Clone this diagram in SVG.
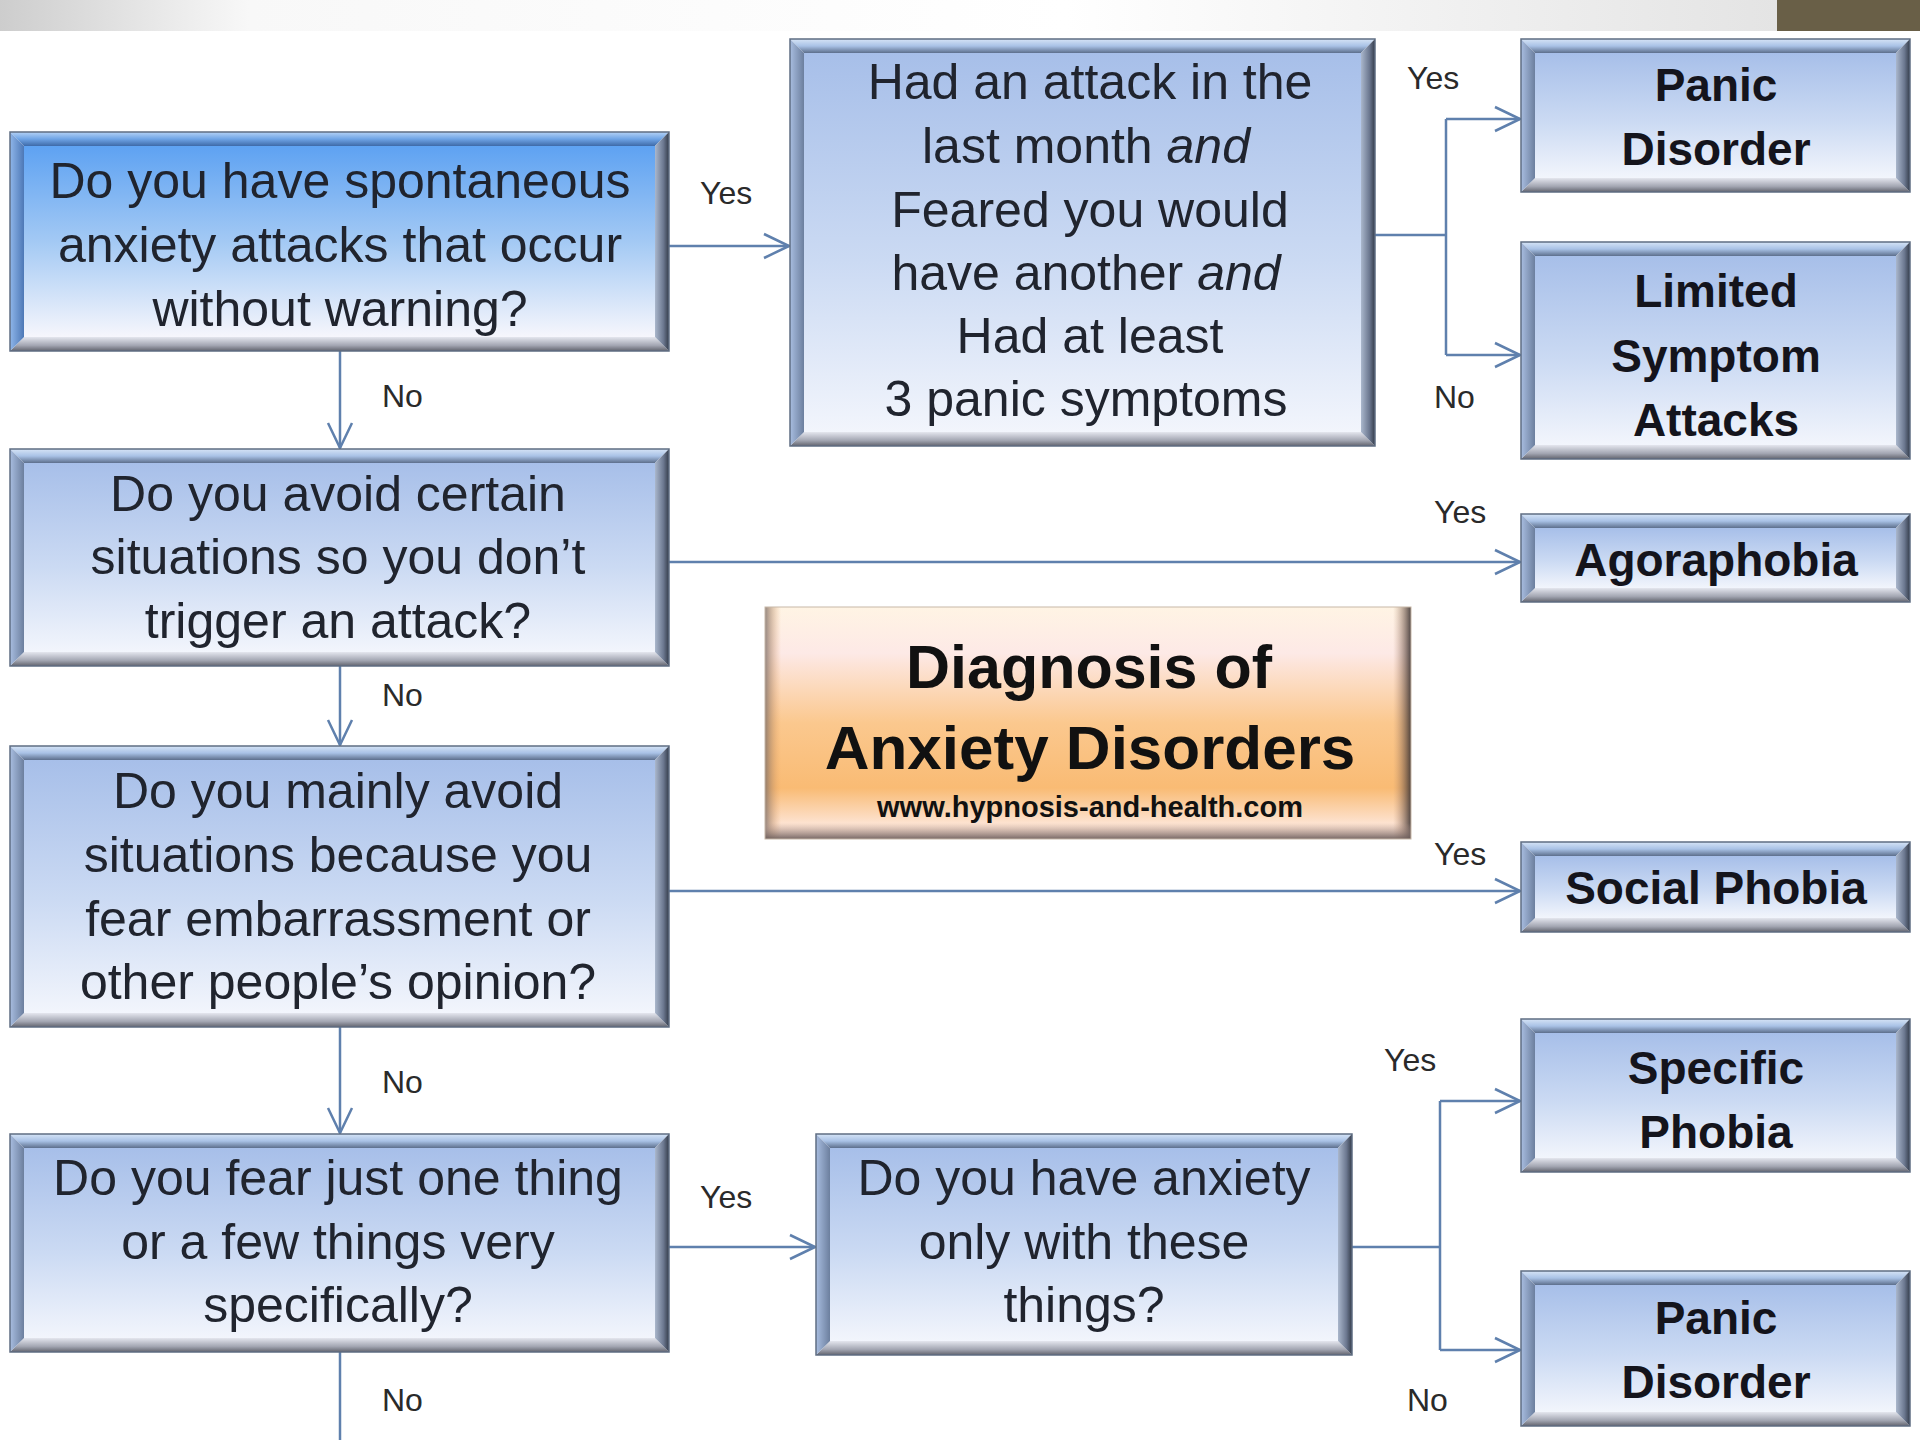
<svg xmlns="http://www.w3.org/2000/svg" width="1920" height="1440" viewBox="0 0 1920 1440">
<style>
.q{font-family:"Liberation Sans",Arial,sans-serif;font-size:50px;fill:#20242e;text-anchor:middle}
.t{font-family:"Liberation Sans",Arial,sans-serif;font-size:46px;font-weight:bold;fill:#14141c;text-anchor:middle}
.lb{font-family:"Liberation Sans",Arial,sans-serif;font-size:32px;fill:#2a2a2a}
.ti{font-family:"Liberation Sans",Arial,sans-serif;font-weight:bold;fill:#111;text-anchor:middle}
.bt{fill:url(#gTop)}
.bb{fill:url(#gBot)}
.bl{fill:url(#gLeft)}
.br{fill:url(#gRight)}
.bt1{fill:url(#gTop1)}
.bl1{fill:url(#gLeft1)}
.face{fill:url(#gFace)}
.face1{fill:url(#gFace1)}
.edge{fill:none;stroke:#5f6d82;stroke-width:1.5}
.conn{fill:none;stroke:#5f80ad;stroke-width:2.5}
</style>
<defs>
<linearGradient id="band" x1="0" y1="0" x2="1" y2="0">
<stop offset="0" stop-color="#cdcdcd"/><stop offset="0.14" stop-color="#f8f8f8"/><stop offset="0.6" stop-color="#ffffff"/><stop offset="1" stop-color="#e4e4e4"/>
</linearGradient>
<linearGradient id="gTop" x1="0" y1="0" x2="0" y2="1">
<stop offset="0" stop-color="#d6e4f6"/><stop offset="0.5" stop-color="#a9c2e6"/><stop offset="1" stop-color="#5d6f8c"/>
</linearGradient>
<linearGradient id="gTop1" x1="0" y1="0" x2="0" y2="1">
<stop offset="0" stop-color="#b4d2f6"/><stop offset="0.5" stop-color="#6fa4e6"/><stop offset="1" stop-color="#3e6aa8"/>
</linearGradient>
<linearGradient id="gBot" x1="0" y1="0" x2="0" y2="1">
<stop offset="0" stop-color="#e4e6ee"/><stop offset="0.6" stop-color="#a3a6b2"/><stop offset="1" stop-color="#62646e"/>
</linearGradient>
<linearGradient id="gLeft" x1="0" y1="0" x2="1" y2="0">
<stop offset="0" stop-color="#a8bde0"/><stop offset="1" stop-color="#6c7f9e"/>
</linearGradient>
<linearGradient id="gLeft1" x1="0" y1="0" x2="1" y2="0">
<stop offset="0" stop-color="#8fb6ea"/><stop offset="1" stop-color="#4d78b6"/>
</linearGradient>
<linearGradient id="gRight" x1="0" y1="0" x2="1" y2="0">
<stop offset="0" stop-color="#aab7cc"/><stop offset="0.6" stop-color="#6c7890"/><stop offset="1" stop-color="#343c4a"/>
</linearGradient>
<linearGradient id="gFace" x1="0" y1="0" x2="0" y2="1">
<stop offset="0" stop-color="#a7bfe9"/><stop offset="0.55" stop-color="#cbdaf3"/><stop offset="1" stop-color="#f2f5fc"/>
</linearGradient>
<linearGradient id="gFace1" x1="0" y1="0" x2="0" y2="1">
<stop offset="0" stop-color="#5ea2f2"/><stop offset="0.5" stop-color="#a3c9f4"/><stop offset="1" stop-color="#f6f6fc"/>
</linearGradient>
<linearGradient id="gTitle" x1="0" y1="0" x2="0" y2="1">
<stop offset="0" stop-color="#fff4e4"/><stop offset="0.2" stop-color="#fde9e6"/><stop offset="0.5" stop-color="#fbc88e"/><stop offset="0.78" stop-color="#f9bb74"/><stop offset="0.93" stop-color="#fde2cf"/><stop offset="1" stop-color="#e9d2c8"/>
</linearGradient>
<linearGradient id="gTL" x1="0" y1="0" x2="1" y2="0">
<stop offset="0" stop-color="#7a6e6a" stop-opacity="0.8"/><stop offset="1" stop-color="#e8a060" stop-opacity="0"/>
</linearGradient>
<linearGradient id="gTR" x1="0" y1="0" x2="1" y2="0">
<stop offset="0" stop-color="#c09070" stop-opacity="0"/><stop offset="1" stop-color="#3a3232" stop-opacity="0.9"/>
</linearGradient>
<linearGradient id="gTB" x1="0" y1="0" x2="0" y2="1">
<stop offset="0" stop-color="#c0a49a" stop-opacity="0"/><stop offset="1" stop-color="#6a5c5a" stop-opacity="0.9"/>
</linearGradient>
<marker id="ah" markerUnits="userSpaceOnUse" markerWidth="30" markerHeight="30" viewBox="0 0 30 30" refX="28" refY="15" orient="auto">
<path d="M3,3 L28,15 L3,27" fill="none" stroke="#5f80ad" stroke-width="2.5"/>
</marker>
</defs>

<rect x="0" y="0" width="1920" height="1440" fill="#ffffff"/>
<rect x="0" y="0" width="1777" height="31" fill="url(#band)"/>
<rect x="1777" y="0" width="143" height="31" fill="#695f47"/>

<g id="connectors">
<path class="conn" d="M669,246 H789" marker-end="url(#ah)"/>
<path class="conn" d="M340,351 V448" marker-end="url(#ah)"/>
<path class="conn" d="M1375,235 H1446 M1446,119 V355"/>
<path class="conn" d="M1446,119 H1520" marker-end="url(#ah)"/>
<path class="conn" d="M1446,355 H1520" marker-end="url(#ah)"/>
<path class="conn" d="M669,562 H1520" marker-end="url(#ah)"/>
<path class="conn" d="M340,666 V745" marker-end="url(#ah)"/>
<path class="conn" d="M669,891 H1520" marker-end="url(#ah)"/>
<path class="conn" d="M340,1027 V1133" marker-end="url(#ah)"/>
<path class="conn" d="M669,1247 H815" marker-end="url(#ah)"/>
<path class="conn" d="M1352,1247 H1440 M1440,1101 V1350"/>
<path class="conn" d="M1440,1101 H1520" marker-end="url(#ah)"/>
<path class="conn" d="M1440,1350 H1520" marker-end="url(#ah)"/>
<path class="conn" d="M340,1352 V1440"/>
<text class="lb" x="700" y="204">Yes</text>
<text class="lb" x="382" y="407">No</text>
<text class="lb" x="1407" y="89">Yes</text>
<text class="lb" x="1434" y="408">No</text>
<text class="lb" x="1434" y="523">Yes</text>
<text class="lb" x="382" y="706">No</text>
<text class="lb" x="1434" y="865">Yes</text>
<text class="lb" x="382" y="1093">No</text>
<text class="lb" x="700" y="1208">Yes</text>
<text class="lb" x="1384" y="1071">Yes</text>
<text class="lb" x="1407" y="1411">No</text>
<text class="lb" x="382" y="1411">No</text>
</g>

<g id="q1">
<rect class="face1" x="24" y="146" width="631" height="191"/>
<polygon class="bt1" points="10,132 669,132 655,146 24,146"/>
<polygon class="bb" points="10,351 669,351 655,337 24,337"/>
<polygon class="bl1" points="10,132 24,146 24,337 10,351"/>
<polygon class="br" points="669,132 655,146 655,337 669,351"/>
<rect class="edge" x="10" y="132" width="659" height="219"/>
<text class="q" x="340" y="198">Do you have spontaneous</text>
<text class="q" x="340" y="262">anxiety attacks that occur</text>
<text class="q" x="340" y="326">without warning?</text>
</g>

<g id="q2">
<rect class="face" x="804" y="53" width="557" height="379"/>
<polygon class="bt" points="790,39 1375,39 1361,53 804,53"/>
<polygon class="bb" points="790,446 1375,446 1361,432 804,432"/>
<polygon class="bl" points="790,39 804,53 804,432 790,446"/>
<polygon class="br" points="1375,39 1361,53 1361,432 1375,446"/>
<rect class="edge" x="790" y="39" width="585" height="407"/>
<text class="q" x="1090" y="99">Had an attack in the</text>
<text class="q" x="1086" y="163">last month <tspan font-style="italic">and</tspan></text>
<text class="q" x="1090" y="227">Feared you would</text>
<text class="q" x="1086" y="290">have another <tspan font-style="italic">and</tspan></text>
<text class="q" x="1090" y="353">Had at least</text>
<text class="q" x="1086" y="416">3 panic symptoms</text>
</g>

<g id="panic1">
<rect class="face" x="1535" y="53" width="361" height="125"/>
<polygon class="bt" points="1521,39 1910,39 1896,53 1535,53"/>
<polygon class="bb" points="1521,192 1910,192 1896,178 1535,178"/>
<polygon class="bl" points="1521,39 1535,53 1535,178 1521,192"/>
<polygon class="br" points="1910,39 1896,53 1896,178 1910,192"/>
<rect class="edge" x="1521" y="39" width="389" height="153"/>
<text class="t" x="1716" y="101">Panic</text>
<text class="t" x="1716" y="165">Disorder</text>
</g>

<g id="limited">
<rect class="face" x="1535" y="256" width="361" height="189"/>
<polygon class="bt" points="1521,242 1910,242 1896,256 1535,256"/>
<polygon class="bb" points="1521,459 1910,459 1896,445 1535,445"/>
<polygon class="bl" points="1521,242 1535,256 1535,445 1521,459"/>
<polygon class="br" points="1910,242 1896,256 1896,445 1910,459"/>
<rect class="edge" x="1521" y="242" width="389" height="217"/>
<text class="t" x="1716" y="307">Limited</text>
<text class="t" x="1716" y="372">Symptom</text>
<text class="t" x="1716" y="436">Attacks</text>
</g>

<g id="q3">
<rect class="face" x="24" y="463" width="631" height="189"/>
<polygon class="bt" points="10,449 669,449 655,463 24,463"/>
<polygon class="bb" points="10,666 669,666 655,652 24,652"/>
<polygon class="bl" points="10,449 24,463 24,652 10,666"/>
<polygon class="br" points="669,449 655,463 655,652 669,666"/>
<rect class="edge" x="10" y="449" width="659" height="217"/>
<text class="q" x="338" y="511">Do you avoid certain</text>
<text class="q" x="338" y="574">situations so you don’t</text>
<text class="q" x="338" y="638">trigger an attack?</text>
</g>

<g id="agoraphobia">
<rect class="face" x="1535" y="528" width="361" height="60"/>
<polygon class="bt" points="1521,514 1910,514 1896,528 1535,528"/>
<polygon class="bb" points="1521,602 1910,602 1896,588 1535,588"/>
<polygon class="bl" points="1521,514 1535,528 1535,588 1521,602"/>
<polygon class="br" points="1910,514 1896,528 1896,588 1910,602"/>
<rect class="edge" x="1521" y="514" width="389" height="88"/>
<text class="t" x="1716" y="576">Agoraphobia</text>
</g>

<g id="title">
<rect x="765" y="607" width="646" height="232" fill="url(#gTitle)"/>
<rect x="765" y="607" width="16" height="232" fill="url(#gTL)"/>
<rect x="1393" y="607" width="18" height="232" fill="url(#gTR)"/>
<rect x="765" y="823" width="646" height="16" fill="url(#gTB)"/>
<rect x="765" y="607" width="646" height="232" fill="none" stroke="#c8b8a8" stroke-width="1"/>
<text class="ti" x="1089" y="688" font-size="61">Diagnosis of</text>
<text class="ti" x="1090" y="769" font-size="62">Anxiety Disorders</text>
<text class="ti" x="1090" y="817" font-size="29" fill="#222">www.hypnosis-and-health.com</text>
</g>

<g id="q4">
<rect class="face" x="24" y="760" width="631" height="253"/>
<polygon class="bt" points="10,746 669,746 655,760 24,760"/>
<polygon class="bb" points="10,1027 669,1027 655,1013 24,1013"/>
<polygon class="bl" points="10,746 24,760 24,1013 10,1027"/>
<polygon class="br" points="669,746 655,760 655,1013 669,1027"/>
<rect class="edge" x="10" y="746" width="659" height="281"/>
<text class="q" x="338" y="808">Do you mainly avoid</text>
<text class="q" x="338" y="872">situations because you</text>
<text class="q" x="338" y="936">fear embarrassment or</text>
<text class="q" x="338" y="999">other people’s opinion?</text>
</g>

<g id="social">
<rect class="face" x="1535" y="856" width="361" height="62"/>
<polygon class="bt" points="1521,842 1910,842 1896,856 1535,856"/>
<polygon class="bb" points="1521,932 1910,932 1896,918 1535,918"/>
<polygon class="bl" points="1521,842 1535,856 1535,918 1521,932"/>
<polygon class="br" points="1910,842 1896,856 1896,918 1910,932"/>
<rect class="edge" x="1521" y="842" width="389" height="90"/>
<text class="t" x="1716" y="904">Social Phobia</text>
</g>

<g id="q5">
<rect class="face" x="24" y="1148" width="631" height="190"/>
<polygon class="bt" points="10,1134 669,1134 655,1148 24,1148"/>
<polygon class="bb" points="10,1352 669,1352 655,1338 24,1338"/>
<polygon class="bl" points="10,1134 24,1148 24,1338 10,1352"/>
<polygon class="br" points="669,1134 655,1148 655,1338 669,1352"/>
<rect class="edge" x="10" y="1134" width="659" height="218"/>
<text class="q" x="338" y="1195">Do you fear just one thing</text>
<text class="q" x="338" y="1259">or a few things very</text>
<text class="q" x="338" y="1322">specifically?</text>
</g>

<g id="q6">
<rect class="face" x="830" y="1148" width="508" height="193"/>
<polygon class="bt" points="816,1134 1352,1134 1338,1148 830,1148"/>
<polygon class="bb" points="816,1355 1352,1355 1338,1341 830,1341"/>
<polygon class="bl" points="816,1134 830,1148 830,1341 816,1355"/>
<polygon class="br" points="1352,1134 1338,1148 1338,1341 1352,1355"/>
<rect class="edge" x="816" y="1134" width="536" height="221"/>
<text class="q" x="1084" y="1195">Do you have anxiety</text>
<text class="q" x="1084" y="1259">only with these</text>
<text class="q" x="1084" y="1322">things?</text>
</g>

<g id="specific">
<rect class="face" x="1535" y="1033" width="361" height="125"/>
<polygon class="bt" points="1521,1019 1910,1019 1896,1033 1535,1033"/>
<polygon class="bb" points="1521,1172 1910,1172 1896,1158 1535,1158"/>
<polygon class="bl" points="1521,1019 1535,1033 1535,1158 1521,1172"/>
<polygon class="br" points="1910,1019 1896,1033 1896,1158 1910,1172"/>
<rect class="edge" x="1521" y="1019" width="389" height="153"/>
<text class="t" x="1716" y="1084">Specific</text>
<text class="t" x="1716" y="1148">Phobia</text>
</g>

<g id="panic2">
<rect class="face" x="1535" y="1285" width="361" height="127"/>
<polygon class="bt" points="1521,1271 1910,1271 1896,1285 1535,1285"/>
<polygon class="bb" points="1521,1426 1910,1426 1896,1412 1535,1412"/>
<polygon class="bl" points="1521,1271 1535,1285 1535,1412 1521,1426"/>
<polygon class="br" points="1910,1271 1896,1285 1896,1412 1910,1426"/>
<rect class="edge" x="1521" y="1271" width="389" height="155"/>
<text class="t" x="1716" y="1334">Panic</text>
<text class="t" x="1716" y="1398">Disorder</text>
</g>
</svg>
